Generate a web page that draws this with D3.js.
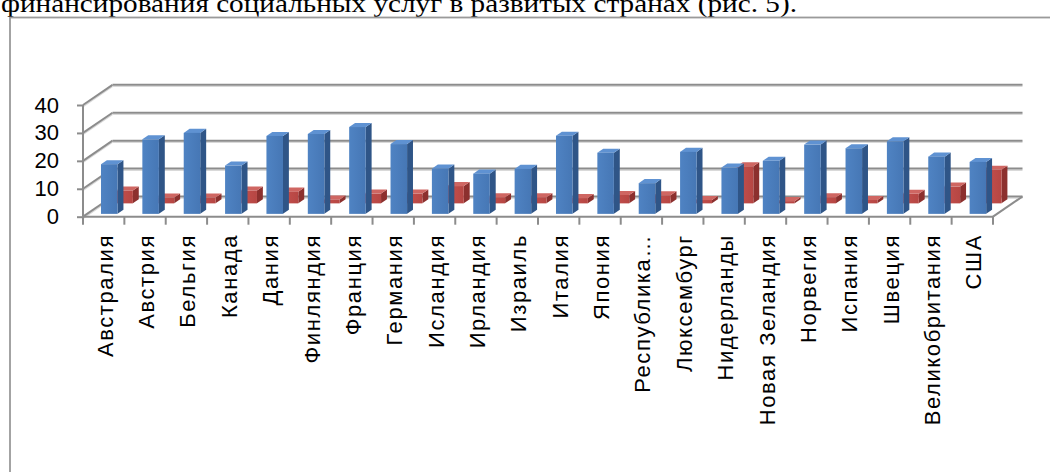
<!DOCTYPE html>
<html><head><meta charset="utf-8">
<script src="https://cdn.jsdelivr.net/npm/d3@7"></script>
<style>
html,body{margin:0;padding:0;background:#fff;}
svg{display:block;}
.hdr{font-family:"Times New Roman","Liberation Serif","DejaVu Serif","Noto Serif",serif;}
</style></head>
<body>
<svg id="chart" width="1050" height="472"></svg>
<script>
const categories = ["Австралия","Австрия","Бельгия","Канада","Дания","Финляндия","Франция","Германия","Исландия","Ирландия","Израиль","Италия","Япония","Республика…","Люксембург","Нидерланды","Новая Зеландия","Норвегия","Испания","Швеция","Великобритания","США"];
const seriesBlue = [17.8, 26.7, 29.0, 17.3, 27.9, 28.6, 31.1, 25.0, 16.2, 14.4, 16.1, 28.0, 21.9, 11.0, 22.2, 16.6, 19.0, 24.8, 23.5, 26.0, 20.5, 18.6];
const seriesRed  = [4.6, 2.1, 2.1, 4.6, 4.2, 1.4, 3.5, 3.5, 6.2, 2.2, 2.2, 1.9, 3.0, 2.9, 1.2, 13.3, 0.8, 2.2, 1.2, 3.4, 6.0, 12.0];
const yTicks = [0, 10, 20, 30, 40];
const headerText = "финансирования социальных услуг в развитых странах (рис. 5).";

const svg = d3.select("#chart");

// header line (cut at the top, as in the source page) and frame
svg.append("text").attr("class", "hdr").attr("x", 1).attr("y", 11.5)
  .attr("font-size", 26).attr("textLength", 796).attr("lengthAdjust", "spacingAndGlyphs")
  .attr("fill", "#000").text(headerText);
svg.append("rect").attr("x", 10).attr("y", 17.5).attr("width", 1100).attr("height", 500)
  .attr("fill", "none").attr("stroke", "#9a9a9a").attr("stroke-width", 1.8);

// geometry
const X0 = 83, X1 = 993, Y0 = 216.7;
const DX = 29.5, DY = -20.2;
const x = d3.scaleBand().domain(categories).range([X0, X1]).paddingInner(0).paddingOuter(0);
const y = d3.scaleLinear().domain([0, 40]).range([Y0, Y0 - 111.7]);
const P = (px, v, z) => [px + DX * z, y(v) + DY * z];

const grid = svg.append("g");
const gridColor = "#8c8c8c";
function gline(a, b, shadow) {
  if (shadow) {
    grid.append("line").attr("x1", a[0]).attr("y1", a[1] + 1.6).attr("x2", b[0]).attr("y2", b[1] + 1.6)
      .attr("stroke", "#d9d9d9").attr("stroke-width", 1.4);
  }
  grid.append("line").attr("x1", a[0]).attr("y1", a[1]).attr("x2", b[0]).attr("y2", b[1])
    .attr("stroke", gridColor).attr("stroke-width", 2);
}
yTicks.forEach(v => {
  gline(P(X0, v, 0), P(X0, v, 1), true);
  gline(P(X0, v, 1), P(X1, v, 1), true);
});
// floor edges
gline(P(X0, 0, 0), P(X1, 0, 0), false);
gline(P(X1, 0, 0), P(X1, 0, 1), false);

// axes
svg.append("line").attr("x1", X0).attr("y1", y(0)).attr("x2", X0).attr("y2", y(40))
  .attr("stroke", gridColor).attr("stroke-width", 2);
const yAxis = d3.axisLeft(y).tickValues(yTicks).tickSize(6).tickPadding(18);
const ya = svg.append("g").attr("transform", `translate(${X0},0)`).call(yAxis);
ya.select(".domain").remove();
ya.selectAll(".tick line").attr("stroke", gridColor).attr("stroke-width", 2);
ya.selectAll(".tick text").attr("font-family", "Liberation Sans, Arial, sans-serif")
  .attr("font-size", 22).attr("fill", "#000");

// category ticks at band boundaries
const bounds = categories.map(c => x(c)).concat([X1]);
svg.append("g").selectAll("line").data(bounds).join("line")
  .attr("x1", d => d).attr("x2", d => d).attr("y1", Y0).attr("y2", Y0 + 8)
  .attr("stroke", gridColor).attr("stroke-width", 2);

// category labels
svg.append("g").selectAll("text").data(categories).join("text")
  .attr("transform", d => `translate(${x(d) + x.bandwidth() / 2 + 9},234) rotate(-90)`)
  .attr("text-anchor", "end")
  .attr("font-family", "Liberation Sans, Arial, sans-serif")
  .attr("font-size", 22).attr("letter-spacing", 1.6).attr("fill", "#000")
  .text(d => d);

// bars
const bw = x.bandwidth();
function drawBars(values, z0, z1, cols) {
  const g = svg.append("g");
  values.forEach((v, i) => {
    const xa = x(categories[i]) + bw * 0.335, xb = xa + bw * 0.4;
    const f0 = P(xa, 0, z0), f1 = P(xb, 0, z0), t0 = P(xa, v, z0), t1 = P(xb, v, z0);
    const b1 = P(xb, 0, z1), u1 = P(xb, v, z1), u0 = P(xa, v, z1);
    const poly = pts => pts.map(p => p.join(",")).join(" ");
    g.append("polygon").attr("points", poly([f1, t1, u1, b1])).attr("fill", cols.side);
    g.append("polygon").attr("points", poly([t0, t1, u1, u0])).attr("fill", cols.top);
    g.append("rect").attr("x", t0[0]).attr("y", t0[1]).attr("width", f1[0] - f0[0]).attr("height", f0[1] - t0[1])
      .attr("fill", cols.front);
  });
}
const defs = svg.append("defs");
function grad(id, c1, c2) {
  const lg = defs.append("linearGradient").attr("id", id).attr("x1", 0).attr("x2", 1).attr("y1", 0).attr("y2", 0);
  lg.append("stop").attr("offset", 0).attr("stop-color", c1);
  lg.append("stop").attr("offset", 1).attr("stop-color", c2);
}
grad("gb", "#4f83c3", "#4677b5");
grad("gr", "#c5514e", "#b64643");
drawBars(seriesRed, 0.66, 0.86, {front: "url(#gr)", side: "#8c302e", top: "#cf6662"});
drawBars(seriesBlue, 0.14, 0.34, {front: "url(#gb)", side: "#2f5587", top: "#5f92d2"});
</script>
</body></html>
